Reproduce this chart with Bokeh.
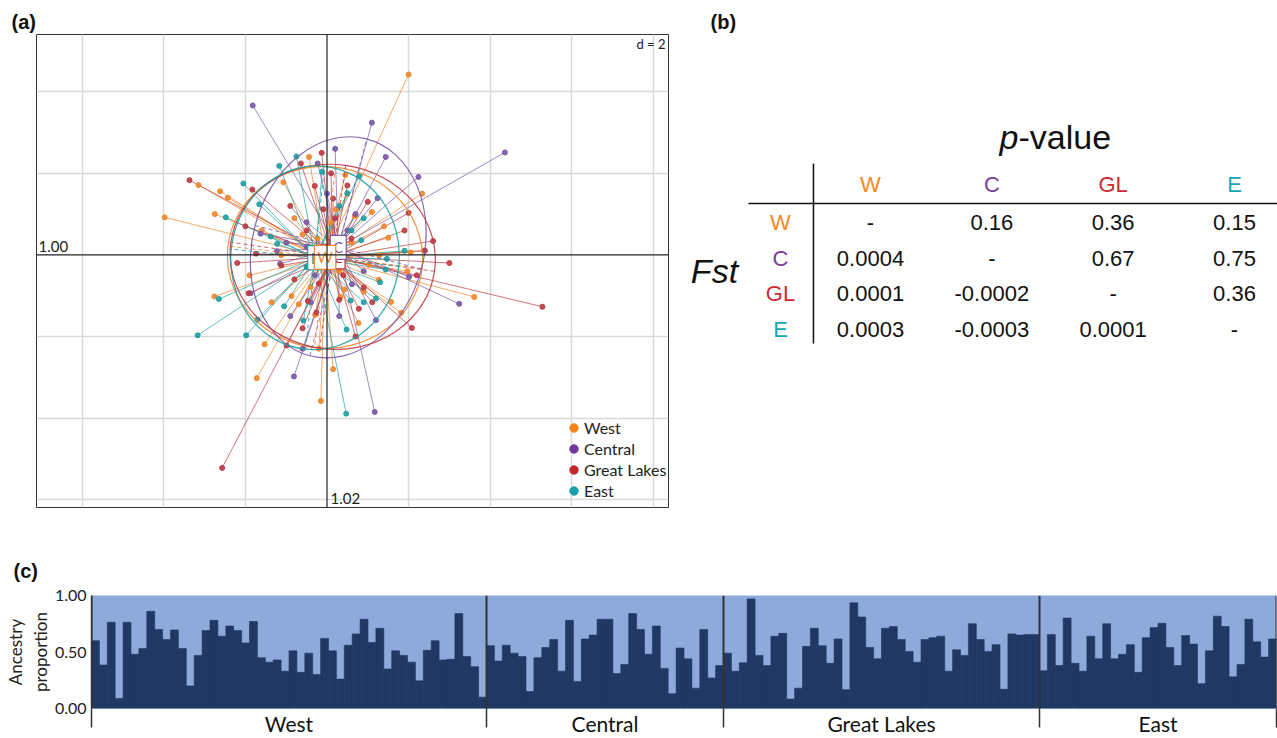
import numpy as np
from bokeh.plotting import figure
from bokeh.models import (Range1d, FixedTicker, Span, Label, Legend, LegendItem, Grid,
                          PrintfTickFormatter, Title)
from bokeh.layouts import row, column
from bokeh.embed import file_html
from bokeh.resources import INLINE
from bokeh.core.properties import value

# ---------------- data ----------------
groups = ["West", "Central", "Great Lakes", "East"]
codes = ["W", "C", "GL", "E"]
pt_colors = ["#F0862A", "#7A58A6", "#BC3A43", "#1E9FA2"]
leg_colors = ["#F5821F", "#6F3A98", "#C1272D", "#1AA0A6"]
hdr_colors = ["#F7861E", "#7D3C98", "#CF2A30", "#1AA5B3"]

# panel (a): individual scores (axis 1, axis 2)
west_x = [2.0, -3.98, -3.15, -2.62, -2.43, -2.75, 2.33, 2.38, 3.61, -2.76, -1.53, -1.72, -0.15, 1.82,
          1.57, 1.5, 1.1, -0.44, -1.07, 0.45, 0.22, 0.77, 0.33, 0.43, -0.87, -1.36, -0.69, -0.29, -0.4,
          2.05, 1.28, 1.97, 1.27, 1.03, 0.68, -1.12, -0.23, 0.6, -0.6, 0.3, -0.8, 0.9, -1.6, 0.5, -0.2,
          1.4, -0.5, 0.1, -1.9, 0.15]
west_y = [4.42, 0.92, 1.71, 1.56, 1.40, 1.0, 1.5, 0.11, -1.03, -1.02, -2.19, -3.02, -3.58, -1.42,
          -1.15, 0.42, 1.05, 2.4, 1.78, 1.96, 1.12, -1.67, -1.03, -0.85, -1.01, -1.16, -1.21, -1.47,
          -0.79, 0.06, -0.01, -0.4, -0.61, -0.24, 0.95, -0.01, 0.4, 0.3, 0.5, -0.4, 0.9, -0.9, 0.6,
          1.5, -2.3, 0.7, -0.3, 0.8, -0.5, -2.8]
central_x = [-1.82, 1.10, 4.36, 1.44, 2.24, 1.24, 3.24, 1.17, -0.81, -0.23, 0.0, -1.87, -1.15, -1.23,
             2.01, 0.61, -1.63, -0.4, 0.5, 0.9, -0.5, 0.3, -0.5, -0.3, 0.7, -0.9, 1.2, 0.2, -0.6, -1.0]
central_y = [3.66, 3.24, 2.51, 2.40, 1.91, 1.39, -1.2, -3.85, -2.98, 2.24, 1.5, -0.94, -0.22, 0.09,
             -0.54, -0.72, 0.52, -1.16, 0.6, -0.4, 0.8, -1.5, 0.2, -0.5, 1.0, -1.5, -1.6, 2.6, -2.3, 0.3]
gl_x = [-3.37, -2.57, 5.28, 3.0, 2.6, 2.0, 2.08, -0.99, -0.13, -0.64, -0.3, 0.15, -0.09, -1.74, -1.12,
        0.78, 1.11, -1.92, -0.26, -0.47, -1.83, 0.6, -0.5, 0.4, -0.8, 1.9, 0.9, -2.0, 0.2, -0.2, 2.2,
        0.5, -0.6, 1.0, -2.2, 0.3, 0.1, 2.4, -0.9, 0.7]
gl_y = [1.83, -5.22, -1.27, -0.2, 0.34, 1.03, -1.79, -2.22, 2.5, 2.24, 1.69, 1.38, 1.12, 0.03, -0.26,
        -1.32, -1.16, -0.94, -1.41, -1.13, 1.6, 0.4, 0.6, -0.5, -0.6, 0.6, -0.8, 0.7, 0.9, -0.7, -0.5,
        1.7, -1.8, 1.3, -0.2, -1.1, 2.0, 0.1, 1.2, -2.0]
east_x = [-3.17, -1.98, 0.47, -2.65, -2.05, -1.17, -0.75, -1.66, -2.48, 0.79, 0.5, 1.47, 1.44, 1.2,
          0.48, -1.71, -1.05, 0.6, -0.12, -0.58, 0.58, 0.9, 1.3, 0.9, 0.3, -1.38, -0.5, -1.22, 0.84, 1.9]
east_y = [-1.97, -1.97, -3.89, -1.08, 1.75, 2.18, 2.41, 1.24, 0.92, 1.93, 1.51, -0.1, -0.36, -1.07,
          -1.83, -1.59, -1.26, 0.6, 2.04, -1.61, -1.12, -1.16, -0.67, 0.9, 1.2, 0.45, -0.3, 0.27, 0.36, 0.1]
eig_labels = ["1.00", "1.02"]
grid_step = 2

# panel (b): table (upper triangle p-values, lower triangle Fst)
table_w = ["-", "0.16", "0.36", "0.15"]
table_c = ["0.0004", "-", "0.67", "0.75"]
table_gl = ["0.0001", "-0.0002", "-", "0.36"]
table_e = ["0.0003", "-0.0003", "0.0001", "-"]

# panel (c): ancestry proportions per individual
west_anc = [0.60, 0.385, 0.763, 0.089, 0.763, 0.48, 0.53, 0.86, 0.70, 0.61, 0.695, 0.53, 0.20, 0.47,
            0.69, 0.78, 0.64, 0.73, 0.69, 0.58, 0.77, 0.45, 0.41, 0.43, 0.33, 0.51, 0.32, 0.49, 0.30,
            0.62, 0.51, 0.26, 0.56, 0.66, 0.79, 0.585, 0.71, 0.35, 0.51, 0.47, 0.41, 0.245, 0.515,
            0.60, 0.43, 0.435, 0.84, 0.46, 0.37, 0.10]
central_anc = [0.556, 0.42, 0.56, 0.49, 0.46, 0.15, 0.45, 0.54, 0.61, 0.33, 0.78, 0.24, 0.615, 0.65,
               0.79, 0.79, 0.31, 0.39, 0.84, 0.70, 0.48, 0.73, 0.355, 0.13, 0.535, 0.44, 0.18, 0.70,
               0.27, 0.38]
gl_anc = [0.49, 0.33, 0.405, 0.97, 0.47, 0.38, 0.64, 0.665, 0.083, 0.18, 0.55, 0.71, 0.556, 0.40,
          0.615, 0.166, 0.935, 0.81, 0.54, 0.44, 0.71, 0.725, 0.61, 0.505, 0.41, 0.61, 0.627, 0.64,
          0.33, 0.52, 0.47, 0.75, 0.61, 0.505, 0.565, 0.17, 0.66, 0.65, 0.654, 0.654]
east_anc = [0.334, 0.654, 0.38, 0.80, 0.40, 0.33, 0.64, 0.44, 0.75, 0.44, 0.48, 0.565, 0.32, 0.627,
            0.716, 0.754, 0.54, 0.38, 0.645, 0.57, 0.22, 0.51, 0.817, 0.725, 0.28, 0.39, 0.79, 0.59,
            0.455, 0.615]

LAT = value("Lato")
ARIAL = value("Liberation Sans")

# ---------------- panel (a) ----------------
pa = figure(width=680, height=540, x_range=Range1d(-7.12, 8.37), y_range=Range1d(-6.19, 5.40),
            output_backend="svg", toolbar_location=None, x_axis_location=None, y_axis_location=None,
            min_border_left=36, min_border_right=12, min_border_top=34, min_border_bottom=33)
pa.grid.visible = False
pa.outline_line_color = "#333333"
pa.outline_line_width = 1
pa.add_layout(Grid(dimension=0, ticker=FixedTicker(ticks=[v for v in range(-6, 9, grid_step) if v != 0]),
                   grid_line_color="#d9d9d9", grid_line_width=1.5))
pa.add_layout(Grid(dimension=1, ticker=FixedTicker(ticks=[v for v in range(-6, 6, grid_step) if v != 0]),
                   grid_line_color="#d9d9d9", grid_line_width=1.5))
pa.add_layout(Span(location=0, dimension="height", line_color="#222222", line_width=1.2))
pa.add_layout(Span(location=0, dimension="width", line_color="#222222", line_width=1.2))

gx = [west_x, central_x, gl_x, east_x]
gy = [west_y, central_y, gl_y, east_y]
cents = []
for xs, ys, c in zip(gx, gy, pt_colors):
    xs = np.array(xs); ys = np.array(ys)
    mx, my = xs.mean(), ys.mean()
    cents.append((mx, my))
    pa.segment(x0=[mx] * len(xs), y0=[my] * len(xs), x1=xs, y1=ys, line_color=c, line_alpha=0.7,
               line_width=1)
for xs, ys, c in zip(gx, gy, pt_colors):
    pa.scatter(xs, ys, size=5, fill_color=c, line_color=c, fill_alpha=0.9)
for xs, ys, c, (mx, my) in zip(gx, gy, pt_colors, cents):
    xs = np.array(xs); ys = np.array(ys)
    vx = np.mean((xs - mx) ** 2); vy = np.mean((ys - my) ** 2); cxy = np.mean((xs - mx) * (ys - my))
    ev, evec = np.linalg.eigh(np.array([[vx, cxy], [cxy, vy]]))
    l1 = 1.5 * np.sqrt(ev[1]); l2 = 1.5 * np.sqrt(ev[0])
    v1 = evec[:, 1]; v2 = evec[:, 0]
    ang = np.arctan2(v1[1], v1[0])
    pa.ellipse(x=[mx], y=[my], width=[2 * l1], height=[2 * l2], angle=[ang], fill_color=None,
               line_color=c, line_width=1.2, line_alpha=0.9)
    pa.segment(x0=[mx - l1 * v1[0], mx - l2 * v2[0]], y0=[my - l1 * v1[1], my - l2 * v2[1]],
               x1=[mx + l1 * v1[0], mx + l2 * v2[0]], y1=[my + l1 * v1[1], my + l2 * v2[1]],
               line_color=c, line_dash="4 3", line_width=1, line_alpha=0.8)
for i in [2, 1, 3, 0]:
    mx, my = cents[i]
    pa.text(x=[mx], y=[my], text=[codes[i]], text_color=pt_colors[i], text_align="center",
            text_baseline="middle", text_font=LAT, text_font_size="15px",
            background_fill_color="white", border_line_color=pt_colors[i], border_line_width=1.2,
            padding=3)

items = []
for g, c in zip(groups, leg_colors):
    r = pa.scatter(x=[np.nan], y=[np.nan], size=10, fill_color=c, line_color=c)
    items.append(LegendItem(label=g, renderers=[r]))
leg = Legend(items=items, location=(527, 6), background_fill_alpha=0, border_line_alpha=0,
             padding=0, margin=0, spacing=0, glyph_width=21, glyph_height=21, label_height=21,
             label_standoff=0, label_text_font="Lato", label_text_font_size="16px",
             label_text_color="#222222")
pa.add_layout(leg)

pa.add_layout(Title(text="(a)", align="left", offset=-25, standoff=3, text_font="Liberation Sans",
                    text_font_style="bold", text_font_size="20px", text_color="#111111"), "above")
pa.add_layout(Label(x=629, y=464, x_units="screen", y_units="screen", text="d = 2",
                    text_font="Lato", text_font_size="13px", text_align="right",
                    text_baseline="middle", text_color="#222222"))
pa.add_layout(Label(x=2, y=261, x_units="screen", y_units="screen", text=eig_labels[0],
                    text_font="Lato", text_font_size="15px", text_baseline="middle",
                    text_color="#222222"))
pa.add_layout(Label(x=294, y=9, x_units="screen", y_units="screen", text=eig_labels[1],
                    text_font="Lato", text_font_size="15px", text_baseline="middle",
                    text_color="#222222"))

# ---------------- panel (b) ----------------
col_px = 121.33
row_px = 35.67
pb = figure(width=597, height=540, x_range=Range1d((680 - 870) / col_px, (1277 - 870) / col_px),
            y_range=Range1d(-(507 - 222) / row_px, (222 - 34) / row_px),
            output_backend="svg", toolbar_location=None, x_axis_location=None, y_axis_location=None,
            min_border_left=0, min_border_right=0, min_border_top=34, min_border_bottom=33)
pb.grid.visible = False
pb.outline_line_color = None
rows = [table_w, table_c, table_gl, table_e]
for r, vals in enumerate(rows):
    pb.text(x=list(range(len(vals))), y=[-r] * len(vals), text=vals, text_align="center",
            text_baseline="middle", text_font=ARIAL, text_font_size="22px", text_color="#111111")
pb.text(x=list(range(4)), y=[1.065] * 4, text=codes, text_color=hdr_colors, text_align="center",
        text_baseline="middle", text_font=ARIAL, text_font_size="22px")
pb.text(x=[-0.742] * 4, y=[-r for r in range(4)], text=codes, text_color=hdr_colors,
        text_align="center", text_baseline="middle", text_font=ARIAL, text_font_size="22px")
pb.segment(x0=[-1.006], y0=[0.533], x1=[(1277 - 870) / col_px], y1=[0.533], line_color="#111111",
           line_width=1.5)
pb.segment(x0=[-0.47], y0=[1.654], x1=[-0.47], y1=[-3.39], line_color="#111111", line_width=1.5)
pb.text(x=[-1.286], y=[(222 - 270) / row_px], text=["Fst"], text_align="center", text_baseline="middle",
        text_font=ARIAL, text_font_style="italic", text_font_size="34px", text_color="#111111")
pb.text(x=[1.22], y=[(222 - 136) / row_px], text=["p"], text_align="right", text_baseline="middle",
        text_font=ARIAL, text_font_style="italic", text_font_size="34px", text_color="#111111")
pb.text(x=[1.22], y=[(222 - 136) / row_px], text=["-value"], text_align="left", text_baseline="middle",
        text_font=ARIAL, text_font_size="34px", text_color="#111111")
pb.add_layout(Title(text="(b)", align="left", offset=30, standoff=3, text_font="Liberation Sans",
                    text_font_style="bold", text_font_size="20px", text_color="#111111"), "above")

# ---------------- panel (c) ----------------
anc = [west_anc, central_anc, gl_anc, east_anc]
allv = np.concatenate([np.array(a) for a in anc])
n = len(allv)
bounds = np.concatenate([[0], np.cumsum([len(a) for a in anc])]).astype(int)
centers = [int((a + b) // 2) for a, b in zip(bounds[:-1], bounds[1:])]
light = "#8EAADB"
dark = "#1F3864"
pc = figure(width=1277, height=198, x_range=Range1d(0, n), y_range=Range1d(0, 1.0),
            output_backend="svg", toolbar_location=None,
            min_border_left=91, min_border_right=1, min_border_top=55, min_border_bottom=30)
pc.outline_line_color = None
pc.grid.visible = False
pc.background_fill_color = light
pc.yaxis.ticker = FixedTicker(ticks=[0, 0.5, 1.0])
pc.yaxis.formatter = PrintfTickFormatter(format="%.2f")
pc.yaxis.axis_line_color = "#333333"
pc.yaxis.axis_line_width = 1.5
pc.yaxis.major_tick_line_color = None
pc.yaxis.minor_tick_line_color = None
pc.yaxis.major_tick_out = 0
pc.yaxis.major_tick_in = 0
pc.yaxis.minor_tick_out = 0
pc.yaxis.minor_tick_in = 0
pc.yaxis.major_label_standoff = 5
pc.yaxis.major_label_text_font = "Lato"
pc.yaxis.major_label_text_font_size = "16px"
pc.yaxis.major_label_text_color = "#222222"
pc.yaxis.axis_label = "Ancestry\nproportion"
pc.yaxis.axis_label_text_font = "Lato"
pc.yaxis.axis_label_text_font_size = "17px"
pc.yaxis.axis_label_text_font_style = "normal"
pc.yaxis.axis_label_text_color = "#222222"
pc.yaxis.axis_label_standoff = 1
pc.xaxis.ticker = FixedTicker(ticks=centers, minor_ticks=list(bounds))
pc.xaxis.major_label_overrides = {c: g for c, g in zip(centers, groups)}
pc.xaxis.axis_line_color = None
pc.xaxis.major_tick_line_color = None
pc.xaxis.major_tick_out = 0
pc.xaxis.major_tick_in = 0
pc.xaxis.minor_tick_out = 19
pc.xaxis.minor_tick_in = 0
pc.xaxis.minor_tick_line_color = "#333333"
pc.xaxis.minor_tick_line_width = 1.5
pc.xaxis.major_label_standoff = -17
pc.xaxis.major_label_text_font = "Lato"
pc.xaxis.major_label_text_font_size = "21px"
pc.xaxis.major_label_text_color = "#111111"
xc = np.arange(n) + 0.5
pc.vbar(x=xc, width=1, bottom=0, top=allv, fill_color=dark, line_color=dark, line_width=0.6)
pc.segment(x0=bounds, y0=[0] * len(bounds), x1=bounds, y1=[1.0] * len(bounds),
           line_color="#333333", line_width=2)
pc.add_layout(Title(text="(c)", align="left", offset=-78, standoff=28, text_font="Liberation Sans",
                    text_font_style="bold", text_font_size="20px", text_color="#111111"), "above")

layout = column(row(pa, pb), pc)
open("out.html", "w").write(file_html(layout, INLINE))
